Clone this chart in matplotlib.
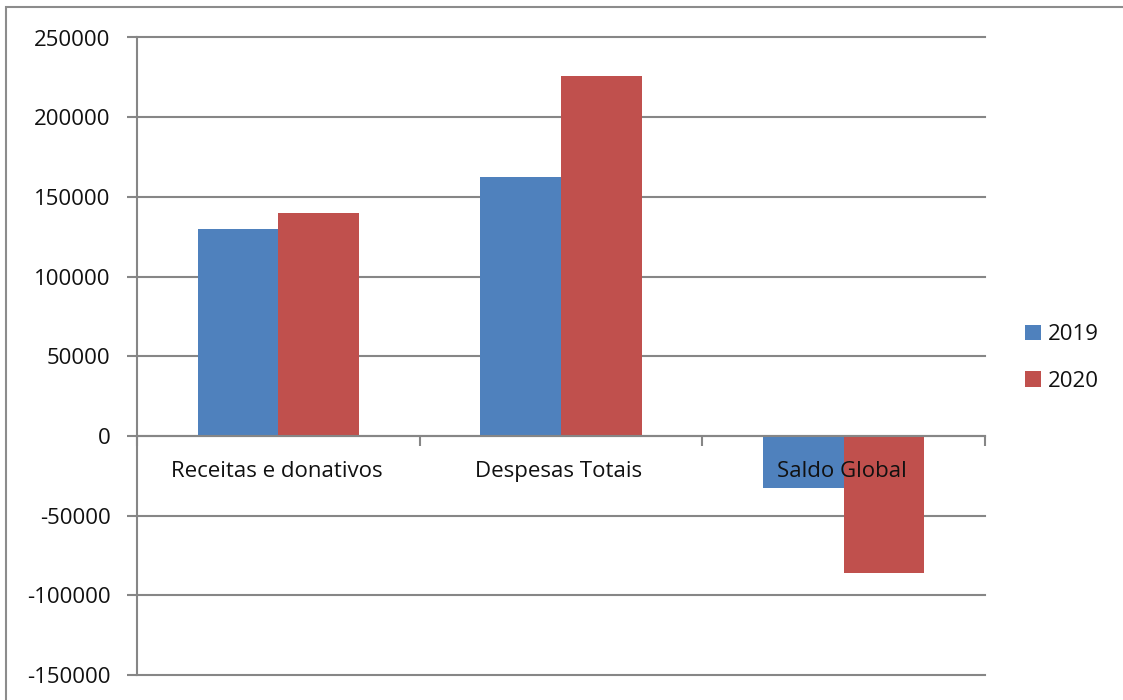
import matplotlib
matplotlib.use("Agg")
import matplotlib.pyplot as plt
from matplotlib.patches import Rectangle
from matplotlib.ticker import FixedLocator
from matplotlib.transforms import offset_copy
import numpy as np

categories = ["Receitas e donativos", "Despesas Totais", "Saldo Global"]
series_names = ["2019", "2020"]
values_2019 = [130000, 162500, -32500]
values_2020 = [140000, 226000, -86000]
yticks = [-150000, -100000, -50000, 0, 50000, 100000, 150000, 200000, 250000]

colors = ["#4F81BD", "#C0504D"]
grid_c = "#868686"

plt.rcParams['font.family'] = ['Open Sans', 'DejaVu Sans']

fig = plt.figure(figsize=(11.23, 7.0), dpi=100)
ax = fig.add_axes([137/1123, 1-675/700, (985-137)/1123, (675-37.5)/700])

x = np.arange(len(categories))
w = 1/3.5
for k, (vals, name) in enumerate([(values_2019, series_names[0]), (values_2020, series_names[1])]):
    ax.bar(x + (k - 0.5) * w, vals, width=w, color=colors[k], label=name, zorder=3)

ax.set_xlim(-0.5, len(categories) - 0.5)
ax.set_ylim(yticks[0], yticks[-1])
ax.set_yticks(yticks)
ax.set_yticklabels([str(v) for v in yticks], fontsize=16, color="#111111")
ax.yaxis.grid(True, color=grid_c, linewidth=1.5, zorder=0)
for gl in ax.get_ygridlines():
    gl.set_clip_on(False)
ax.tick_params(axis='y', length=7, width=1.5, color=grid_c, pad=12)

for s in ['top', 'right']:
    ax.spines[s].set_visible(False)
ax.spines['left'].set_color(grid_c)
ax.spines['left'].set_linewidth(1.5)
ax.spines['bottom'].set_position(('data', 0))
ax.spines['bottom'].set_color(grid_c)
ax.spines['bottom'].set_linewidth(1.5)
ax.spines['bottom'].set_zorder(4)

ax.set_xticks(x)
ax.set_xticklabels([])
ax.tick_params(axis='x', which='major', length=0)
ax.xaxis.set_minor_locator(FixedLocator(np.arange(len(categories) + 1) - 0.5))
ax.tick_params(axis='x', which='minor', length=7, width=1.5, color=grid_c, direction='out')

lbl_tr = offset_copy(ax.transData, fig=fig, x=-2, y=-36, units='dots')
for i, c in enumerate(categories):
    ax.text(i, 0, c, transform=lbl_tr, ha='center', va='center', fontsize=16,
            color="#111111", zorder=6)

leg = fig.legend(loc='center left', bbox_to_anchor=(1005/1123, 1-358/700), frameon=False,
                 fontsize=16, handlelength=0.7, handleheight=0.7, handletextpad=0.35,
                 labelspacing=1.15)
for t in leg.get_texts():
    t.set_color("#111111")

fig.add_artist(Rectangle((6/1123, -0.05), 1.2, 1 - 7/700 + 0.05, transform=fig.transFigure,
                         fill=False, edgecolor="#8c8c8c", linewidth=1.5))

fig.savefig("out.png", dpi=100)
